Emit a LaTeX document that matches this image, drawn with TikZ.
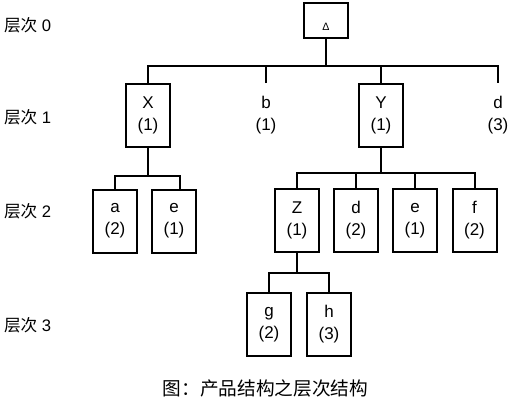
\documentclass[tikz,border=0pt]{standalone}
\usepackage{fontspec}
\setmainfont{Liberation Sans}
\newfontfamily\cjk{Noto Sans CJK SC}
\begin{document}
\begin{tikzpicture}[x=0.75pt,y=-0.75pt,line width=1.5pt,
  box/.style={draw,line width=1.5pt,minimum width=33pt,minimum height=47.25pt,inner sep=0pt,align=center,font=\fontsize{12.75}{16.5}\selectfont},
  plain/.style={box,draw=none},
  lvl/.style={anchor=west,inner sep=0pt,font=\fontsize{12.5}{14}\selectfont}]
\useasboundingbox (0,0) rectangle (511,400);
% level labels
\node[lvl] (l0) at (3,25.5) {{\cjk 层次} 0};
\node[lvl] (l1) at (3,117.5) {{\cjk 层次} 1};
\node[lvl] (l2) at (3,211.5) {{\cjk 层次} 2};
\node[lvl] (l3) at (3,325.5) {{\cjk 层次} 3};
% level 0
\node[draw,line width=1.5pt,minimum width=33pt,minimum height=26.25pt,inner sep=0pt] (top) at (326,20.5) {};
\node[inner sep=0pt,font=\fontsize{8}{9}\selectfont] (tri) at (326,27) {Δ};
% level 1
\node[box] (X) at (148,115.5) {X\\(1)};
\node[plain] (b) at (266,115.5) {b\\(1)};
\node[box] (Y) at (381,115.5) {Y\\(1)};
\node[plain] (d) at (498,115.5) {d\\(3)};
% level 2
\node[box] (a) at (115,221) {a\\(2)};
\node[box] (e1) at (174,221) {e\\(1)};
\node[box] (Z) at (297,220.5) {Z\\(1)};
\node[box] (d2) at (356,220.5) {d\\(2)};
\node[box] (e2) at (415,220.5) {e\\(1)};
\node[box] (f) at (474.5,220.5) {f\\(2)};
% level 3
\node[box] (g) at (269,324.5) {g\\(2)};
\node[box] (h) at (329,324.5) {h\\(3)};
% caption
\node[inner sep=0pt,font=\cjk\fontsize{14}{16}\selectfont] (cap) at (265.5,388) {图：产品结构之层次结构};
% connectors
\coordinate (j0) at (326,66);
\draw (top.south) -- (j0);
\draw (X.north) |- (j0) -| (d.north);
\draw (b.north) -- (b.north |- j0);
\draw (Y.north) -- (Y.north |- j0);
\coordinate (j1) at (148,176);
\draw (X.south) -- (j1);
\draw (a.north) |- (j1) -| ([xshift=4.5pt]e1.north);
\coordinate (j2) at (381,173);
\draw (Y.south) -- (j2);
\draw (Z.north) |- (j2) -| (f.north);
\draw (d2.north) -- (d2.north |- j2);
\draw (e2.north) -- (e2.north |- j2);
\coordinate (j3) at (297,273);
\draw (Z.south) -- (j3);
\draw (g.north) |- (j3) -| (h.north);
\end{tikzpicture}
\end{document}
